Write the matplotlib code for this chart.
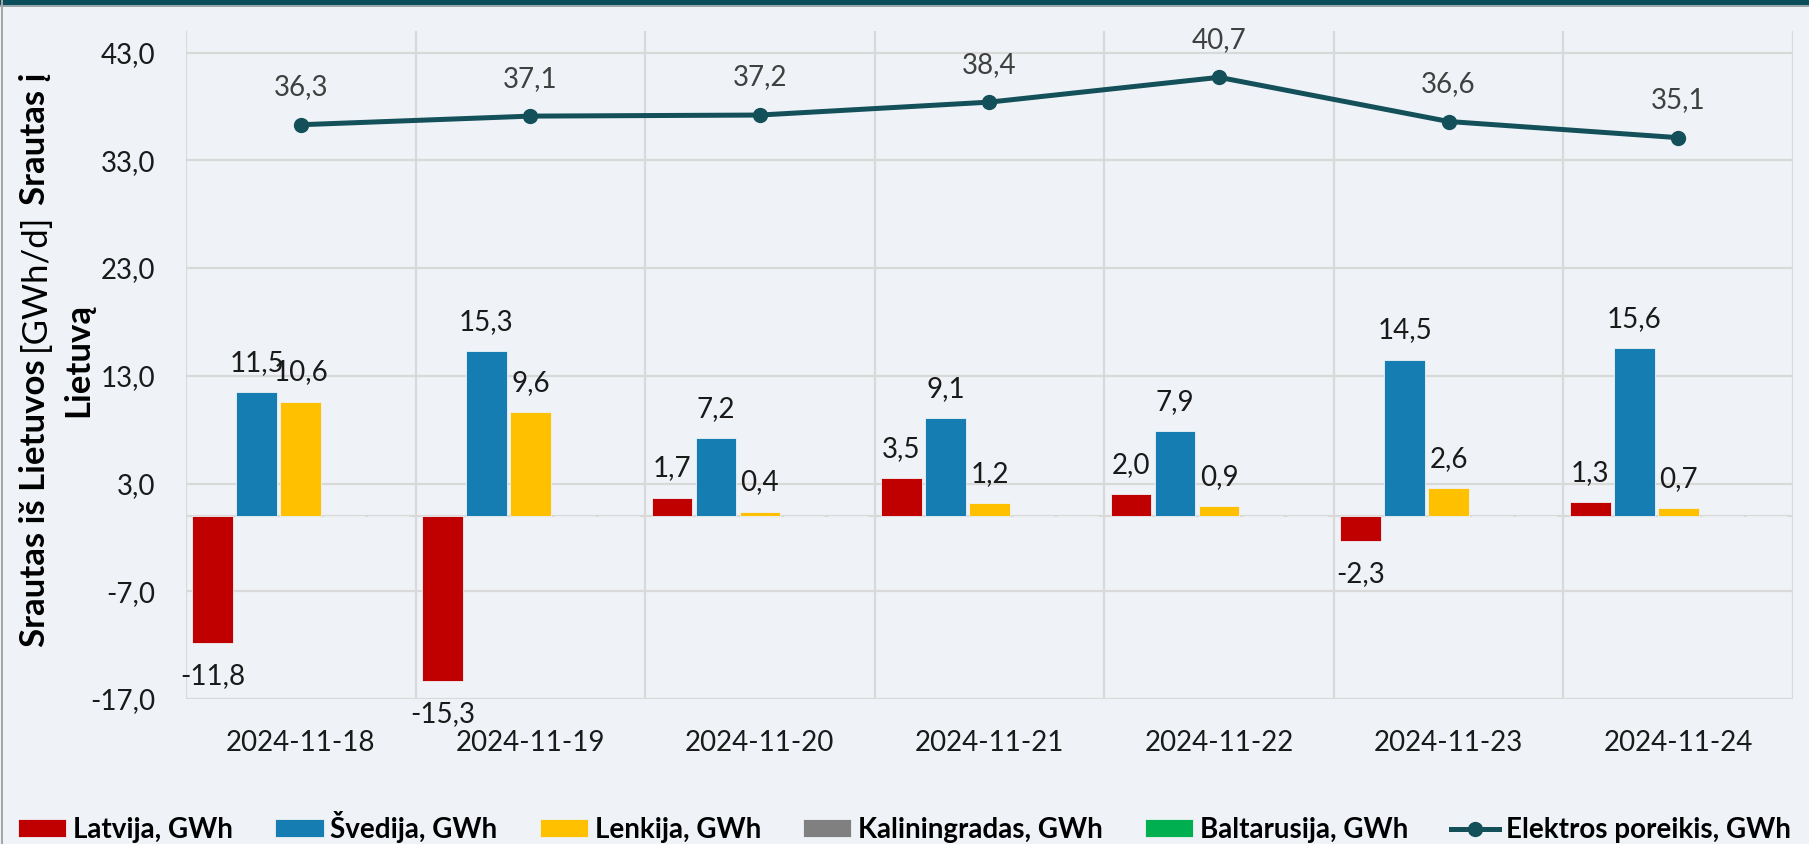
import matplotlib
matplotlib.use("Agg")
import matplotlib.pyplot as plt
import numpy as np
from matplotlib.patches import Rectangle

plt.rcParams['font.family'] = ['Lato', 'DejaVu Sans']

# ---- data ----
dates = ["2024-11-18", "2024-11-19", "2024-11-20", "2024-11-21",
         "2024-11-22", "2024-11-23", "2024-11-24"]
latvija = [-11.8, -15.3, 1.7, 3.5, 2.0, -2.3, 1.3]
svedija = [11.5, 15.3, 7.2, 9.1, 7.9, 14.5, 15.6]
lenkija = [10.6, 9.6, 0.4, 1.2, 0.9, 2.6, 0.7]
kaliningradas = [0.0, 0.0, 0.0, 0.0, 0.0, 0.0, 0.0]
baltarusija = [0.0, 0.0, 0.0, 0.0, 0.0, 0.0, 0.0]
poreikis = [36.3, 37.1, 37.2, 38.4, 40.7, 36.6, 35.1]

series_names = ["Latvija, GWh", "Švedija, GWh", "Lenkija, GWh",
                "Kaliningradas, GWh", "Baltarusija, GWh"]
line_name = "Elektros poreikis, GWh"
yticks = [-17, -7, 3, 13, 23, 33, 43]

# ---- style ----
BG = "#EFF3F7"
colors = ["#C00000", "#157DB1", "#FFC000", "#808080", "#00B050"]
LINE_C = "#14505A"
GRID_C = "#D9D9D9"
TXT = "#1A1A1A"
FS = 20
FS_YL = 25

W, H = 1809, 844
fig = plt.figure(figsize=(W / 100, H / 100), dpi=100, facecolor=BG)
ax = fig.add_axes([186 / W, 1 - 699 / H, (1793 - 186) / W, (699 - 31) / H])
ax.set_facecolor(BG)

x = np.arange(len(dates))
step = 0.1917
bw = 0.177
all_series = [latvija, svedija, lenkija, kaliningradas, baltarusija]
bars_list = []
for j, (vals, c, nm) in enumerate(zip(all_series, colors, series_names)):
    b = ax.bar(x + (j - 2) * step, vals, width=bw, color=c, label=nm,
               edgecolor=BG, linewidth=0.6, zorder=3)
    bars_list.append(b)

# data labels for bars (non-zero series)
for j in range(3):
    vals = all_series[j]
    for xi, v in zip(x, vals):
        xp = xi + (j - 2) * step
        off = 21 if v >= 0 else -24
        ax.annotate(f"{v:.1f}".replace(".", ","), (xp, v), xytext=(0, off),
                    textcoords="offset points", ha="center", va="center",
                    fontsize=FS, color=TXT, zorder=5)

# line
ln, = ax.plot(x, poreikis, color=LINE_C, lw=3.6, marker="o", markersize=10,
              label=line_name, zorder=4)
for xi, v in zip(x, poreikis):
    ax.annotate(f"{v:.1f}".replace(".", ","), (xi, v), xytext=(0, 27),
                textcoords="offset points", ha="center", va="center",
                fontsize=FS, color="#404040", zorder=5)

ax.set_xlim(-0.5, len(dates) - 0.5)
ax.set_ylim(-17, 45)
ax.set_yticks(yticks)
ax.set_yticklabels([f"{t:.1f}".replace(".", ",") for t in yticks])
ax.set_xticks(x)
ax.set_xticklabels(dates)
ax.tick_params(axis="both", length=0, labelsize=FS, colors=TXT)
ax.tick_params(axis="y", pad=22)
ax.tick_params(axis="x", pad=22)
for s in ax.spines.values():
    s.set_visible(False)
ax.yaxis.grid(True, color=GRID_C, lw=1.6, zorder=0)
for b in np.arange(-0.5, len(dates) + 0.5, 1.0):
    ax.axvline(b, color=GRID_C, lw=1.6, zorder=0)
ax.axhline(0, color=GRID_C, lw=1.6, zorder=2)

# legend
handles = bars_list + [ln]
labels = series_names + [line_name]
leg = fig.legend(handles, labels, loc="center", bbox_to_anchor=(0.5, 1 - 827 / H),
                 ncol=6, frameon=False,
                 prop={"weight": "bold", "size": FS},
                 handlelength=1.73, handleheight=0.6, handletextpad=0.25,
                 columnspacing=1.52, borderaxespad=0, borderpad=0)
for t in leg.get_texts():
    t.set_color("black")

# figure decorations (top band, left border)
fig.patches.append(Rectangle((0, 1 - 5 / H), 1, 5 / H, transform=fig.transFigure,
                             facecolor="#0B4F5C", edgecolor="none", zorder=10))
fig.patches.append(Rectangle((0, 1 - 7 / H), 1, 2 / H, transform=fig.transFigure,
                             facecolor="#9AA5AA", edgecolor="none", zorder=10))
fig.patches.append(Rectangle((1 / W, 0), 2 / W, 1, transform=fig.transFigure,
                             facecolor="#A6A6A6", edgecolor="none", zorder=10))

# y-axis label with mixed weights (two lines, rotated)
fig.canvas.draw()
r = fig.canvas.get_renderer()

def text_len(s, weight):
    t = fig.text(0, 0, s, fontsize=FS_YL, fontweight=weight)
    w = t.get_window_extent(renderer=r).width
    t.remove()
    return w

space = text_len("x x", "bold") - text_len("xx", "bold")
parts = [("Srautas iš Lietuvos", "bold"), ("[GWh/d]", "normal"), ("Srautas į", "bold")]
lens = [text_len(s, w) for s, w in parts]
total = sum(lens) + space * (len(parts) - 1)
yc = H - 360  # pixel center (from bottom)
y0 = yc - total / 2
x1 = 35
for (s, w), L in zip(parts, lens):
    fig.text(x1 / W, y0 / H, s, fontsize=FS_YL, fontweight=w, rotation=90,
             rotation_mode="anchor", ha="left", va="center", color="black")
    y0 += L + space
fig.text(78 / W, yc / H, "Lietuvą", fontsize=FS_YL, fontweight="bold", rotation=90,
         rotation_mode="anchor", ha="center", va="center", color="black")

fig.savefig("out.png", dpi=100, facecolor=BG)
